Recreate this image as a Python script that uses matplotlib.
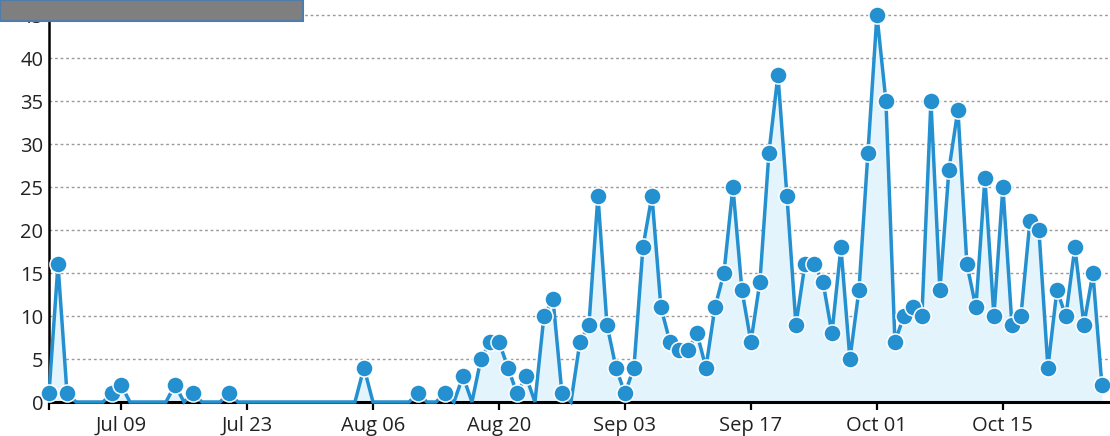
import matplotlib
matplotlib.use("Agg")
import matplotlib.pyplot as plt
import matplotlib.dates as mdates
import matplotlib.patches as mpatches
import numpy as np
import pandas as pd

plt.rcParams['font.family'] = ['Open Sans', 'DejaVu Sans']

start_date = "2012-07-01"
counts = [1, 16, 1, 0, 0, 0, 0, 1, 2, 0, 0, 0, 0, 0, 2, 0, 1, 0, 0, 0,
          1, 0, 0, 0, 0, 0, 0, 0, 0, 0, 0, 0, 0, 0, 0, 4, 0, 0, 0, 0,
          0, 1, 0, 0, 1, 0, 3, 0, 5, 7, 7, 4, 1, 3, 0, 10, 12, 1, 0, 7,
          9, 24, 9, 4, 1, 4, 18, 24, 11, 7, 6, 6, 8, 4, 11, 15, 25, 13, 7, 14,
          29, 38, 24, 9, 16, 16, 14, 8, 18, 5, 13, 29, 45, 35, 7, 10, 11, 10, 35, 13,
          27, 34, 16, 11, 26, 10, 25, 9, 10, 21, 20, 4, 13, 10, 18, 9, 15, 2]
dates = pd.date_range(start_date, periods=len(counts), freq="D")
tick_dates = pd.date_range("2012-07-09", "2012-10-15", freq="14D")
y_ticks = [0, 5, 10, 15, 20, 25, 30, 35, 40, 45]

line_color = "#2490d0"
fill_color = "#e4f4fc"

fig = plt.figure(figsize=(11.10, 4.36), dpi=100)
ax = fig.add_axes([49 / 1110, 1 - 402 / 436, 1 - 49 / 1110, 402 / 436])

x = mdates.date2num(dates)
y = np.array(counts, dtype=float)

ax.fill_between(x, 0, y, color=fill_color, zorder=1, linewidth=0)
ax.plot(x, y, color=line_color, linewidth=2.5, zorder=3, clip_on=False,
        solid_joinstyle="miter")
mask = y > 0
ax.plot(x[mask], y[mask], linestyle="none", marker="o", markersize=12.3,
        markerfacecolor=line_color, markeredgecolor="white",
        markeredgewidth=1.1, zorder=4, clip_on=False)

ax.set_xlim(x[0], x[0] + 117.9)
ax.set_ylim(0, 46.75)

ax.set_yticks(y_ticks)
ax.set_xticks(mdates.date2num(tick_dates))
ax.set_xticks([x[0]], minor=True)
ax.xaxis.set_major_formatter(mdates.DateFormatter("%b %d"))

for v in y_ticks[1:]:
    ax.axhline(v, color="#9a9a9a", linewidth=1.0, linestyle=(0, (2, 2)), zorder=0)

for s in ["top", "right"]:
    ax.spines[s].set_visible(False)
ax.spines["left"].set_linewidth(1.8)
ax.spines["bottom"].set_linewidth(2.2)
ax.spines["left"].set_color("black")
ax.spines["bottom"].set_color("black")
ax.spines["bottom"].set_zorder(2)

ax.tick_params(axis="y", length=0, pad=4, labelsize=14.5, colors="#222222")
ax.tick_params(axis="x", which="both", length=6, width=1.6, pad=4, labelsize=14.5,
               colors="#222222", direction="out")
ax.tick_params(axis="x", which="minor", color="black")
ax.tick_params(axis="x", which="major", color="black")
ax.patch.set_alpha(0)

# overlay box at the top left
box = mpatches.Rectangle((0, 1 - 21 / 436), 303 / 1110, 21 / 436,
                         transform=fig.transFigure, facecolor="#7f7f7f",
                         edgecolor="#4f7cab", linewidth=1.5, zorder=10)
fig.patches.append(box)

fig.savefig("out.png", dpi=100)
